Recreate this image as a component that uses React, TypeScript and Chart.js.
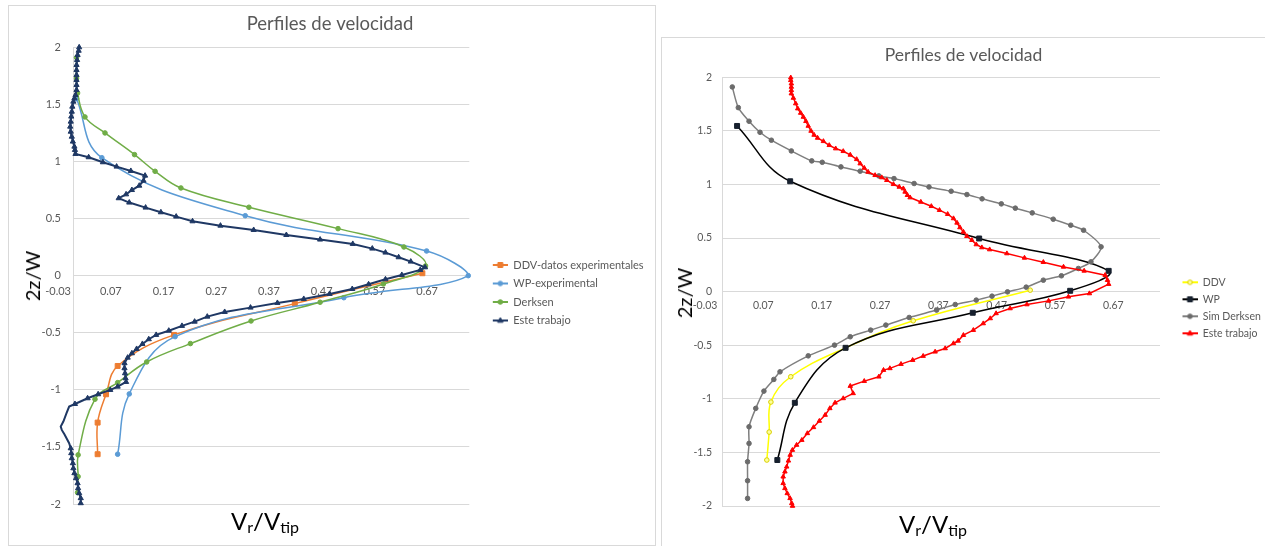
import React, { useEffect, useRef } from 'react';
import { Chart, registerables } from 'chart.js';

Chart.register(...registerables);

const FONT = "Lato, 'Noto Sans', sans-serif";
const TITLE = 'Perfiles de velocidad';
const X_TICKS = [-0.03, 0.07, 0.17, 0.27, 0.37, 0.47, 0.57, 0.67];
const X_MIN = 0;
const X_MAX = 0.75;
const Y_MIN = -2;
const Y_MAX = 2;
const Y_STEP = 0.5;

// ---------- Left chart ----------
const L_LABELS = ['DDV-datos experimentales', 'WP-experimental', 'Derksen', 'Este trabajo'];

const L_DDV_X = [0.661, 0.419, 0.190, 0.083, 0.061, 0.045, 0.045];
const L_DDV_Y = [0.021, -0.245, -0.519, -0.791, -1.039, -1.287, -1.564];

const L_WP_X = [0.005, 0.053, 0.325, 0.669, 0.748, 0.512, 0.192, 0.105, 0.083];
const L_WP_Y = [1.55, 1.033, 0.525, 0.216, 0.0, -0.193, -0.534, -1.036, -1.564];

const L_DERK_X = [0.005, 0.005, 0.007, 0.021, 0.059, 0.115, 0.154, 0.203, 0.332, 0.501, 0.626, 0.667, 0.587, 0.467, 0.336, 0.221, 0.138, 0.083, 0.040, 0.008, 0.008, 0.007];
const L_DERK_Y = [1.91, 1.73, 1.60, 1.39, 1.25, 1.06, 0.914, 0.768, 0.599, 0.412, 0.251, 0.085, -0.073, -0.233, -0.397, -0.595, -0.756, -0.937, -1.082, -1.570, -1.76, -1.90];

const L_ESTE_X = [0.010, 0.009, 0.007, 0.006, 0.005, 0.005, 0.005, 0.005, 0.005, 0.005, 0.003, 0.001, -0.001, -0.003, -0.004, -0.005, -0.006, -0.007, -0.006, -0.004, -0.002, 0.001, 0.002, 0.003, 0.028, 0.055, 0.081, 0.108, 0.135, 0.132, 0.124, 0.110, 0.099, 0.085, 0.105, 0.136, 0.165, 0.194, 0.225, 0.278, 0.341, 0.403, 0.467, 0.529, 0.566, 0.591, 0.616, 0.639, 0.666, 0.657, 0.622, 0.591, 0.559, 0.528, 0.485, 0.436, 0.386, 0.335, 0.286, 0.253, 0.229, 0.205, 0.180, 0.156, 0.142, 0.130, 0.119, 0.110, 0.102, 0.096, 0.096, 0.097, 0.098, 0.099, 0.083, 0.069, 0.046, 0.026, 0.002, -0.009, -0.014, -0.020, -0.025, -0.023, -0.018, -0.014, -0.009, -0.006, -0.005, -0.004, -0.002, -0.001, 0.001, 0.004, 0.007, 0.008, 0.010, 0.013, 0.013];
const L_ESTE_Y = [2.000, 1.970, 1.933, 1.889, 1.845, 1.801, 1.757, 1.714, 1.670, 1.626, 1.582, 1.553, 1.524, 1.480, 1.436, 1.393, 1.349, 1.305, 1.261, 1.217, 1.174, 1.130, 1.101, 1.066, 1.037, 0.993, 0.955, 0.917, 0.876, 0.832, 0.788, 0.750, 0.712, 0.678, 0.640, 0.596, 0.555, 0.517, 0.476, 0.438, 0.400, 0.356, 0.316, 0.278, 0.237, 0.202, 0.161, 0.123, 0.073, 0.050, 0.006, -0.032, -0.076, -0.117, -0.160, -0.204, -0.239, -0.280, -0.318, -0.359, -0.403, -0.440, -0.482, -0.519, -0.557, -0.598, -0.642, -0.680, -0.718, -0.767, -0.811, -0.855, -0.899, -0.931, -0.972, -1.001, -1.039, -1.074, -1.124, -1.147, -1.205, -1.278, -1.322, -1.351, -1.389, -1.424, -1.468, -1.512, -1.555, -1.599, -1.643, -1.687, -1.730, -1.774, -1.818, -1.862, -1.905, -1.949, -1.993];

// ---------- Right chart ----------
const R_LABELS = ['DDV', 'WP', 'Sim Derksen', 'Este trabajo'];

const R_DDV_X = [0.5275, 0.327, 0.211, 0.117, 0.083, 0.080, 0.076];
const R_DDV_Y = [0.014, -0.272, -0.524, -0.794, -1.030, -1.310, -1.571];

const R_WP_X = [0.025, 0.116, 0.440, 0.662, 0.596, 0.429, 0.211, 0.124, 0.094];
const R_WP_Y = [1.546, 1.030, 0.496, 0.194, 0.008, -0.197, -0.524, -1.037, -1.571];

const R_SIM_X = [0.0168, 0.0271, 0.0455, 0.0643, 0.0838, 0.118, 0.153, 0.171, 0.203, 0.236, 0.268, 0.294, 0.3285, 0.354, 0.392, 0.419, 0.445, 0.478, 0.502, 0.531, 0.567, 0.597, 0.619, 0.649, 0.6316, 0.610, 0.581, 0.550, 0.5206, 0.4886, 0.462, 0.435, 0.399, 0.367, 0.320, 0.280, 0.254, 0.219, 0.192, 0.147, 0.0986, 0.088, 0.071, 0.057, 0.0455, 0.0455, 0.043, 0.043, 0.043];
const R_SIM_Y = [1.910, 1.717, 1.590, 1.487, 1.413, 1.313, 1.220, 1.207, 1.164, 1.124, 1.080, 1.055, 1.009, 0.977, 0.937, 0.906, 0.866, 0.819, 0.779, 0.735, 0.676, 0.620, 0.573, 0.418, 0.278, 0.216, 0.148, 0.107, 0.042, -0.002, -0.042, -0.079, -0.120, -0.172, -0.241, -0.312, -0.359, -0.421, -0.499, -0.599, -0.748, -0.819, -0.928, -1.089, -1.261, -1.416, -1.587, -1.764, -1.929];

const R_ESTE_X = [0.117, 0.117, 0.118, 0.118, 0.118, 0.118, 0.1215, 0.1255, 0.129, 0.134, 0.1386, 0.143, 0.147, 0.1518, 0.157, 0.163, 0.173, 0.183, 0.194, 0.207, 0.219, 0.230, 0.236, 0.243, 0.2496, 0.2616, 0.273, 0.2817, 0.293, 0.303, 0.310, 0.313, 0.317, 0.3216, 0.340, 0.358, 0.372, 0.386, 0.396, 0.402, 0.407, 0.413, 0.419, 0.4275, 0.435, 0.4446, 0.458, 0.4875, 0.5177, 0.550, 0.5846, 0.620, 0.656, 0.660, 0.662, 0.629, 0.593, 0.559, 0.5218, 0.493, 0.469, 0.459, 0.447, 0.430, 0.413, 0.404, 0.396, 0.3817, 0.3645, 0.344, 0.326, 0.306, 0.287, 0.276, 0.268, 0.243, 0.219, 0.224, 0.207, 0.193, 0.184, 0.176, 0.166, 0.156, 0.1455, 0.136, 0.127, 0.1198, 0.116, 0.113, 0.110, 0.107, 0.104, 0.104, 0.107, 0.111, 0.1158, 0.1187, 0.120];
const R_ESTE_Y = [1.997, 1.972, 1.941, 1.910, 1.879, 1.848, 1.807, 1.755, 1.708, 1.667, 1.630, 1.590, 1.546, 1.499, 1.462, 1.434, 1.403, 1.366, 1.335, 1.310, 1.276, 1.235, 1.195, 1.154, 1.117, 1.086, 1.065, 1.040, 1.002, 0.977, 0.962, 0.931, 0.900, 0.878, 0.837, 0.797, 0.760, 0.723, 0.683, 0.642, 0.599, 0.558, 0.517, 0.480, 0.440, 0.412, 0.393, 0.356, 0.315, 0.275, 0.231, 0.194, 0.154, 0.107, 0.070, -0.017, -0.048, -0.086, -0.120, -0.157, -0.203, -0.250, -0.297, -0.359, -0.406, -0.459, -0.483, -0.530, -0.561, -0.601, -0.639, -0.676, -0.716, -0.732, -0.794, -0.835, -0.881, -0.949, -0.996, -1.037, -1.089, -1.151, -1.207, -1.266, -1.322, -1.385, -1.431, -1.478, -1.524, -1.578, -1.634, -1.680, -1.727, -1.788, -1.835, -1.882, -1.928, -1.975, -2.0];

type Shape = 'rect' | 'circle' | 'triangle';
interface SeriesStyle {
  line: string;
  fill: string;
  stroke: string;
  shape: Shape;
  radius: number;
  width: number;
  tension: number;
}

const L_STYLES: SeriesStyle[] = [
  { line: '#ED7D31', fill: '#ED7D31', stroke: '#ED7D31', shape: 'rect', radius: 3.5, width: 1.5, tension: 0.4 },
  { line: '#5B9BD5', fill: '#5B9BD5', stroke: '#5B9BD5', shape: 'circle', radius: 2.3, width: 1.5, tension: 0.4 },
  { line: '#70AD47', fill: '#70AD47', stroke: '#70AD47', shape: 'circle', radius: 2.3, width: 1.5, tension: 0.4 },
  { line: '#1F3864', fill: '#1F3864', stroke: '#1F3864', shape: 'triangle', radius: 3, width: 2, tension: 0 },
];

const R_STYLES: SeriesStyle[] = [
  { line: '#FFFF00', fill: '#FFFF99', stroke: '#D8CF00', shape: 'circle', radius: 2.3, width: 1.5, tension: 0.4 },
  { line: '#000000', fill: '#17202E', stroke: '#17202E', shape: 'rect', radius: 3.5, width: 1.5, tension: 0.4 },
  { line: '#7F7F7F', fill: '#6B6B6B', stroke: '#6B6B6B', shape: 'circle', radius: 2.3, width: 1.5, tension: 0.25 },
  { line: '#FF0000', fill: '#FF0000', stroke: '#FF0000', shape: 'triangle', radius: 2.6, width: 1.5, tension: 0 },
];

interface PanelSpec {
  canvasLeft: number; canvasW: number; h: number;
  chartLeft: number; chartRight: number; chartTop: number; chartBottom: number;
  titleCenter: number; titleMidY: number; titleSize: number;
  yTickPad: number; xTickPad: number;
  fontSize: number;
  legendPad: number; legendFirstY: number;
  iconW: number; iconLineStart: number;
  labels: string[]; xs: number[][]; ys: number[][]; styles: SeriesStyle[];
}

const LEFT_SPEC: PanelSpec = {
  canvasLeft: 0, canvasW: 660, h: 546,
  chartLeft: 73.9, chartRight: 469.3, chartTop: 47.3, chartBottom: 504,
  titleCenter: 330, titleMidY: 24.4, titleSize: 18.5,
  yTickPad: 12.9, xTickPad: 8.9,
  fontSize: 11,
  legendPad: 7.5, legendFirstY: 265,
  iconW: 31, iconLineStart: 16,
  labels: L_LABELS,
  xs: [L_DDV_X, L_WP_X, L_DERK_X, L_ESTE_X],
  ys: [L_DDV_Y, L_WP_Y, L_DERK_Y, L_ESTE_Y],
  styles: L_STYLES,
};

const RIGHT_SPEC: PanelSpec = {
  canvasLeft: 650, canvasW: 640, h: 546,
  chartLeft: 722.5, chartRight: 1160, chartTop: 77.3, chartBottom: 506,
  titleCenter: 963.5, titleMidY: 55, titleSize: 17.5,
  yTickPad: 10.5, xTickPad: 7.2,
  fontSize: 10.5,
  legendPad: 6.5, legendFirstY: 282.3,
  iconW: 31, iconLineStart: 16,
  labels: R_LABELS,
  xs: [R_DDV_X, R_WP_X, R_SIM_X, R_ESTE_X],
  ys: [R_DDV_Y, R_WP_Y, R_SIM_Y, R_ESTE_Y],
  styles: R_STYLES,
};

function legendIcon(st: SeriesStyle, w: number, lineStart: number): HTMLCanvasElement {
  const c = document.createElement('canvas');
  c.width = w;
  c.height = 10;
  const g = c.getContext('2d')!;
  const cy = 5;
  g.strokeStyle = st.line;
  g.lineWidth = 2;
  g.beginPath();
  g.moveTo(lineStart, cy);
  g.lineTo(w, cy);
  g.stroke();
  const cx = (lineStart + w) / 2;
  g.fillStyle = st.fill;
  g.strokeStyle = st.stroke;
  g.lineWidth = 1;
  g.beginPath();
  if (st.shape === 'rect') g.rect(cx - 2.5, cy - 2.5, 5, 5);
  else if (st.shape === 'circle') g.arc(cx, cy, 2.3, 0, Math.PI * 2);
  else {
    g.moveTo(cx, cy - 3);
    g.lineTo(cx + 2.7, cy + 1.8);
    g.lineTo(cx - 2.7, cy + 1.8);
    g.closePath();
  }
  g.fill();
  g.stroke();
  return c;
}

function buildConfig(p: PanelSpec): any {
  const icons = p.styles.map((st) => legendIcon(st, p.iconW, p.iconLineStart));
  const n = p.labels.length;

  // legend width, computed the same way Chart.js does (vertical legend)
  const mc = document.createElement('canvas').getContext('2d')!;
  mc.font = `${p.fontSize}px ${FONT}`;
  const maxText = Math.max(...p.labels.map((t) => mc.measureText(t).width));
  const legendW = p.legendPad + p.iconW + p.fontSize / 2 + maxText + 10;

  // layout derived from the wanted chart-area position
  const padR = p.canvasLeft + p.canvasW - p.chartRight - legendW;
  const padL = 2 * (p.titleCenter - p.canvasLeft) - p.canvasW + padR;
  const yWidth = p.chartLeft - p.canvasLeft - padL;
  const padB = p.h - p.chartBottom;
  const titleLH = p.titleSize * 1.2;
  const titlePadTop = p.titleMidY - titleLH / 2;
  const titlePadBottom = p.chartTop - titlePadTop - titleLH;

  // vertical placement of the legend block (align center within chart-area height)
  const rowH = p.fontSize + p.legendPad;
  const colH = n * rowH;
  const start = p.legendFirstY - p.fontSize / 2;
  const legendTitleH = 2 * start - (p.chartTop + p.legendPad + p.chartBottom - colH);
  const legendShift = Math.max(legendTitleH - 10, 0);

  const datasets = p.labels.map((label, i) => {
    const st = p.styles[i];
    return {
      label,
      data: p.xs[i].map((x, j) => ({ x, y: p.ys[i][j] })),
      showLine: true,
      borderColor: st.line,
      borderWidth: st.width,
      backgroundColor: st.fill,
      pointStyle: st.shape,
      pointRadius: st.radius,
      pointHoverRadius: st.radius,
      pointBackgroundColor: st.fill,
      pointBorderColor: st.stroke,
      pointBorderWidth: 1,
      tension: st.tension,
      clip: false,
      order: n - 1 - i,
    };
  });
  const tickFont = { family: FONT, size: p.fontSize };
  return {
    type: 'scatter',
    data: { datasets },
    options: {
      responsive: false,
      maintainAspectRatio: false,
      animation: false,
      events: [],
      layout: { padding: { left: padL, right: padR, top: 0, bottom: padB } },
      plugins: {
        title: {
          display: true,
          text: TITLE,
          color: '#595959',
          font: { family: FONT, size: p.titleSize, weight: 'normal', lineHeight: 1.2 },
          padding: { top: titlePadTop, bottom: titlePadBottom },
        },
        legend: {
          position: 'right',
          align: 'center',
          fullSize: false,
          maxWidth: legendW + 100,
          title: { display: true, text: '', font: { size: 10, lineHeight: 1 }, padding: { top: 0, bottom: legendShift } },
          labels: {
            usePointStyle: true,
            pointStyleWidth: p.iconW,
            padding: p.legendPad,
            color: '#595959',
            font: { family: FONT, size: p.fontSize },
            generateLabels: (chart: any) =>
              chart.data.datasets.map((ds: any, i: number) => ({
                text: ds.label,
                pointStyle: icons[i],
                fillStyle: p.styles[i].fill,
                strokeStyle: p.styles[i].line,
                lineWidth: 0,
                hidden: false,
                datasetIndex: i,
                fontColor: '#595959',
              })),
          },
        },
        tooltip: { enabled: false },
      },
      scales: {
        x: {
          type: 'linear',
          min: X_MIN,
          max: X_MAX,
          position: { y: 0 },
          grid: { display: false, drawTicks: false },
          border: { display: false },
          afterBuildTicks: (axis: any) => {
            axis.ticks = X_TICKS.map((value) => ({ value }));
          },
          ticks: {
            autoSkip: false,
            maxRotation: 0,
            minRotation: 0,
            padding: p.xTickPad,
            color: '#595959',
            font: tickFont,
            callback: (v: any) => Number(v).toFixed(2),
          },
        },
        y: {
          type: 'linear',
          min: Y_MIN,
          max: Y_MAX,
          position: 'left',
          afterFit: (axis: any) => {
            axis.width = yWidth;
          },
          grid: { color: '#D9D9D9', lineWidth: 1, drawTicks: false },
          border: { display: true, color: '#D9D9D9', width: 1 },
          ticks: {
            stepSize: Y_STEP,
            padding: p.yTickPad,
            color: '#595959',
            font: tickFont,
            callback: (v: any) => String(Number(v)),
          },
        },
      },
    },
  };
}

function ChartCanvas({ spec }: { spec: PanelSpec }) {
  const ref = useRef<HTMLCanvasElement>(null);
  useEffect(() => {
    if (!ref.current) return;
    const chart = new Chart(ref.current, buildConfig(spec));
    return () => chart.destroy();
  }, [spec]);
  return (
    <canvas
      ref={ref}
      width={spec.canvasW}
      height={spec.h}
      style={{ position: 'absolute', left: spec.canvasLeft, top: 0, width: spec.canvasW, height: spec.h }}
    />
  );
}

const yTitleStyle = (x: number, y: number): React.CSSProperties => ({
  position: 'absolute',
  left: x,
  top: y,
  transform: 'translate(-50%, -50%) rotate(-90deg)',
  fontFamily: FONT,
  fontSize: 20,
  color: '#000',
  whiteSpace: 'nowrap',
  lineHeight: 1,
});

const xTitleStyle = (x: number, y: number): React.CSSProperties => ({
  position: 'absolute',
  left: x,
  top: y,
  transform: 'translate(-50%, -50%)',
  fontFamily: FONT,
  fontSize: 24,
  color: '#000',
  whiteSpace: 'nowrap',
  lineHeight: 1,
});

const subStyle: React.CSSProperties = { fontSize: 16, verticalAlign: '-0.15em', lineHeight: 1 };

function XTitle({ x, y }: { x: number; y: number }) {
  return (
    <div style={xTitleStyle(x, y)}>
      V<span style={subStyle}>r</span>/V<span style={subStyle}>tip</span>
    </div>
  );
}

export default function App() {
  return (
    <div style={{ position: 'absolute', left: 0, top: 0, width: 1265, height: 546, overflow: 'hidden', background: '#fff' }}>
      <div style={{ position: 'absolute', left: 8, top: 5, width: 646, height: 539, border: '1px solid #D9D9D9' }} />
      <div style={{ position: 'absolute', left: 661, top: 37, width: 640, height: 540, border: '1px solid #D9D9D9' }} />
      <ChartCanvas spec={LEFT_SPEC} />
      <ChartCanvas spec={RIGHT_SPEC} />
      <div style={yTitleStyle(32, 276)}>2z/W</div>
      <div style={yTitleStyle(684, 293)}>2z/W</div>
      <XTitle x={265} y={522} />
      <XTitle x={933} y={525} />
    </div>
  );
}
